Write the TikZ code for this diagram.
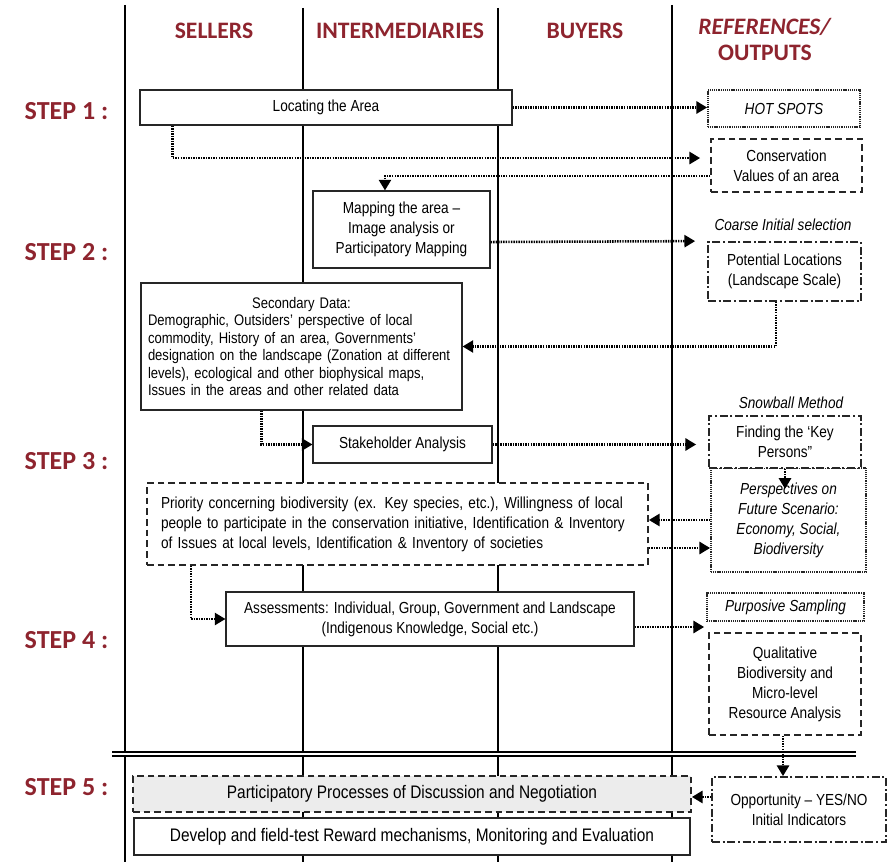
\documentclass[tikz,border=0pt]{standalone}
\usepackage{fontspec}
\setmainfont{Liberation Sans}[FakeStretch=0.85]
\newfontfamily\headfont{Carlito}
\usetikzlibrary{arrows.meta,positioning}
\definecolor{stepred}{RGB}{142,36,46}

\tikzset{
  wh/.style 2 args={minimum width=#1*0.75pt, minimum height=#2*0.75pt},
  box/.style={draw=black!85, line width=0.8pt, fill=white, inner sep=0pt, align=center, font=\fontsize{12}{15}\selectfont},
  dashbox/.style={box, line width=1.3pt, dash pattern=on 5pt off 3pt},
  dotbox/.style={box, line width=1.3pt, dash pattern=on 0.8pt off 0.6pt},
  dashdotbox/.style={box, line width=1.3pt, dash pattern=on 6pt off 2pt on 1.5pt off 2pt},
  ital/.style={font=\fontsize{12}{15}\selectfont\itshape},
  flow/.style={line width=1.9pt, dash pattern=on 1.1pt off 0.8pt, -{Triangle[length=8pt,width=9pt]}},
  lane/.style={line width=1.4pt},
  head/.style={text=stepred, align=center, font=\headfont\bfseries\fontsize{17.7}{19.5}\selectfont},
  steplabel/.style={text=stepred, anchor=west, font=\headfont\bfseries\fontsize{19.5}{22}\selectfont}
}

\begin{document}
\begin{tikzpicture}[x=0.75pt, y=-0.75pt]
\useasboundingbox (0,0) rectangle (888,862);

\foreach \lx/\ly in {125/5, 303/8, 498/8, 672/5}
  \draw[lane] (\lx,\ly) -- (\lx,862);
\draw[line width=1.6pt, double, double distance=1.3pt] (112,754) -- (856,754);

\node[head] (sellers) at (214,31) {SELLERS};
\node[head] (intermediaries) at (400,31) {INTERMEDIARIES};
\node[head] (buyers) at (585,31) {BUYERS};
\node[head] (references) at (765,39) {\textit{REFERENCES/}\\OUTPUTS};

\foreach \n/\sy in {1/111, 2/252, 3/461, 4/640, 5/787}
  \node[steplabel] (step\n) at (20,\sy) {STEP \n~:};

\node[box, wh={372}{35}] (locate) at (326,107.5) {Locating the Area};
\node[dotbox, ital, wh={152}{37}] (hotspots) at (784,108.5) {HOT SPOTS};
\node[dashbox, wh={151}{53}] (consval) at (786.5,165.5) {Conservation\\Values of an area};
\node[box, wh={177}{77}] (mapping) at (401.5,229.5) {Mapping the area --\\Image analysis or\\Participatory Mapping};
\node[ital] (coarse) at (783,225) {Coarse Initial selection};
\node[dashdotbox, wh={153}{59}] (potential) at (784.5,271.5) {Potential Locations\\(Landscape Scale)};
\node[box, wh={321}{127}, text width=230.25pt, align=left, font=\fontsize{11.5}{13.1}\selectfont] (secondary) at (301.5,346.5)
  {\makebox[\linewidth]{Secondary Data:}\\Demographic, Outsiders' perspective of local\\commodity, History of an area, Governments'\\designation on the landscape (Zonation at different\\levels), ecological and other biophysical maps,\\Issues in the areas and other related data};
\node[box, wh={179}{37}] (stakeholder) at (402.5,444.5) {Stakeholder Analysis};
\node[ital] (snowball) at (791,403) {Snowball Method};
\node[dotbox, ital, wh={155}{104}] (perspectives) at (788.5,520) {Perspectives on\\Future Scenario:\\Economy, Social,\\Biodiversity};
\node[dashdotbox, wh={152}{52}] (keypersons) at (785,442) {Finding the ‘Key\\Persons”};
\node[dashbox, wh={501}{82}, text width=354.75pt, align=left] (priority) at (397.5,524)
  {Priority concerning biodiversity (ex. Key species, etc.), Willingness of local\\people to participate in the conservation initiative, Identification \& Inventory\\of Issues at local levels, Identification \& Inventory of societies};
\node[box, wh={408}{54}] (assessment) at (430,619) {Assessments: Individual, Group, Government and Landscape\\(Indigenous Knowledge, Social etc.)};
\node[dotbox, ital, wh={157}{28}] (purposive) at (785.5,607) {Purposive Sampling};
\node[dashbox, wh={152}{102}] (qualitative) at (785,684) {Qualitative\\Biodiversity and\\Micro-level\\Resource Analysis};
\node[dashbox, fill=gray!15, wh={558}{36}, font=\fontsize{13.6}{16}\selectfont] (participatory) at (412,794) {Participatory Processes of Discussion and Negotiation};
\node[dashdotbox, wh={174}{65}] (opportunity) at (799,809.5) {Opportunity -- YES/NO\\Initial Indicators};
\node[box, wh={556}{37}, font=\fontsize{13.6}{16}\selectfont] (develop) at (412,836.5) {Develop and field-test Reward mechanisms, Monitoring and Evaluation};

\draw[flow] (locate.east) -- (locate.east -| hotspots.west);
\draw[flow] ([xshift=24.75pt]locate.south west) |- ([xshift=-7.5pt,yshift=5.6pt]consval.west);
\draw[flow] ([yshift=-7.9pt]consval.west) -| ([xshift=-12.4pt]mapping.north);
\draw[flow] ([yshift=-9.4pt]mapping.east) -- ([xshift=-9pt]potential.north west);
\draw[flow] ([xshift=-6.4pt]potential.south) |- (secondary.east);
\draw[flow] ([xshift=90.75pt]secondary.south west) |- (stakeholder.west);
\draw[flow] (stakeholder.east) -- ([xshift=-9pt]stakeholder.east -| keypersons.west);
\draw[flow] (keypersons.south) -- ([yshift=-15pt]keypersons.south);
\draw[flow] (perspectives.west) -- (perspectives.west -| priority.east);
\draw[flow] ([yshift=-18pt]priority.east) -- ([yshift=-18pt]priority.east -| perspectives.west);
\draw[flow] ([xshift=33.75pt]priority.south west) |- (assessment.west);
\draw[flow] ([yshift=-6pt]assessment.east) -- ([xshift=-3pt,yshift=-6pt]assessment.east -| qualitative.west);
\draw[flow] ([xshift=-1.5pt]qualitative.south) -- ([xshift=-1.5pt]qualitative.south |- opportunity.north);
\draw[flow] ([yshift=9.4pt]opportunity.west) -- ([yshift=9.4pt]opportunity.west -| participatory.east);
\end{tikzpicture}
\end{document}
